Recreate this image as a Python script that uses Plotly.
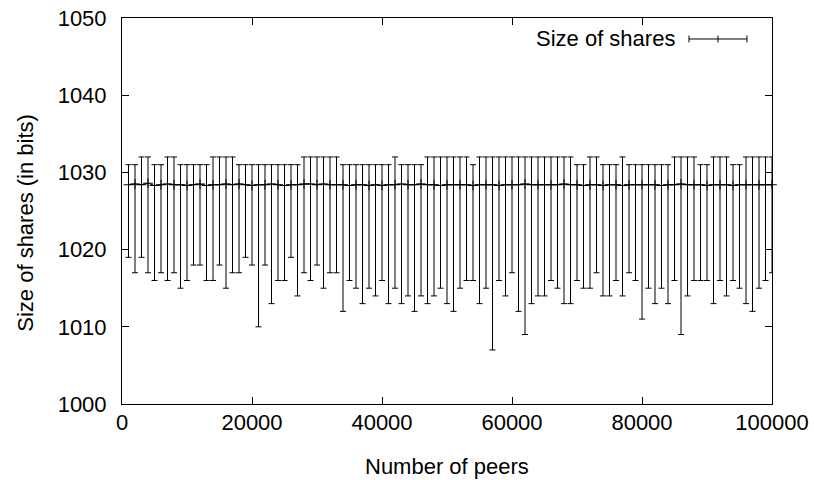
import plotly.graph_objects as go

peers = [
    1000, 2000, 3000, 4000, 5000, 6000, 7000, 8000, 9000, 10000,
    11000, 12000, 13000, 14000, 15000, 16000, 17000, 18000, 19000, 20000,
    21000, 22000, 23000, 24000, 25000, 26000, 27000, 28000, 29000, 30000,
    31000, 32000, 33000, 34000, 35000, 36000, 37000, 38000, 39000, 40000,
    41000, 42000, 43000, 44000, 45000, 46000, 47000, 48000, 49000, 50000,
    51000, 52000, 53000, 54000, 55000, 56000, 57000, 58000, 59000, 60000,
    61000, 62000, 63000, 64000, 65000, 66000, 67000, 68000, 69000, 70000,
    71000, 72000, 73000, 74000, 75000, 76000, 77000, 78000, 79000, 80000,
    81000, 82000, 83000, 84000, 85000, 86000, 87000, 88000, 89000, 90000,
    91000, 92000, 93000, 94000, 95000, 96000, 97000, 98000, 99000, 100000,
]

mean_size = [
    1028.4, 1028.5, 1028.4, 1028.6, 1028.3, 1028.4, 1028.5, 1028.4, 1028.4, 1028.3,
    1028.4, 1028.5, 1028.3, 1028.4, 1028.4, 1028.5, 1028.4, 1028.5, 1028.4, 1028.3,
    1028.4, 1028.4, 1028.5, 1028.4, 1028.3, 1028.4, 1028.4, 1028.5, 1028.5, 1028.4,
    1028.5, 1028.4, 1028.4, 1028.4, 1028.3, 1028.4, 1028.4, 1028.3, 1028.4, 1028.3,
    1028.4, 1028.4, 1028.5, 1028.4, 1028.4, 1028.5, 1028.4, 1028.4, 1028.3, 1028.4,
    1028.4, 1028.4, 1028.4, 1028.3, 1028.4, 1028.4, 1028.4, 1028.3, 1028.4, 1028.4,
    1028.4, 1028.5, 1028.4, 1028.4, 1028.4, 1028.4, 1028.4, 1028.5, 1028.4, 1028.4,
    1028.3, 1028.4, 1028.4, 1028.3, 1028.4, 1028.4, 1028.3, 1028.4, 1028.4, 1028.4,
    1028.4, 1028.4, 1028.3, 1028.4, 1028.4, 1028.5, 1028.4, 1028.4, 1028.4, 1028.3,
    1028.4, 1028.4, 1028.4, 1028.3, 1028.4, 1028.4, 1028.4, 1028.4, 1028.4, 1028.4,
]

max_size = [
    1031, 1031, 1032, 1032, 1031, 1031, 1032, 1032, 1031, 1031,
    1031, 1031, 1031, 1032, 1032, 1032, 1032, 1031, 1031, 1031,
    1031, 1031, 1031, 1031, 1031, 1031, 1031, 1032, 1032, 1032,
    1032, 1032, 1032, 1031, 1031, 1031, 1031, 1031, 1031, 1031,
    1031, 1032, 1031, 1031, 1031, 1031, 1032, 1032, 1032, 1032,
    1032, 1032, 1032, 1031, 1032, 1032, 1032, 1032, 1032, 1032,
    1032, 1032, 1032, 1032, 1032, 1032, 1032, 1032, 1032, 1031,
    1031, 1032, 1032, 1031, 1031, 1031, 1032, 1031, 1031, 1031,
    1031, 1031, 1031, 1031, 1032, 1032, 1032, 1032, 1031, 1031,
    1032, 1032, 1032, 1031, 1031, 1032, 1032, 1032, 1032, 1032,
]

min_size = [
    1019, 1017, 1019, 1017, 1016, 1017, 1016, 1017, 1015, 1016,
    1018, 1018, 1016, 1016, 1018, 1015, 1017, 1017, 1019, 1018,
    1010, 1018, 1013, 1016, 1016, 1019, 1014, 1017, 1016, 1018,
    1015, 1017, 1017, 1012, 1016, 1015, 1013, 1015, 1014, 1016,
    1013, 1015, 1013, 1014, 1012, 1014, 1013, 1014, 1015, 1013,
    1012, 1015, 1016, 1016, 1013, 1015, 1007, 1016, 1014, 1017,
    1012, 1009, 1013, 1014, 1014, 1016, 1015, 1013, 1013, 1016,
    1015, 1015, 1017, 1014, 1014, 1016, 1014, 1017, 1016, 1011,
    1015, 1013, 1015, 1013, 1016, 1009, 1014, 1016, 1016, 1016,
    1013, 1016, 1014, 1016, 1015, 1013, 1012, 1015, 1016, 1017,
]

x_ticks = [0, 20000, 40000, 60000, 80000, 100000]
x_tick_labels = ["0", "20000", "40000", "60000", "80000", "100000"]
y_ticks = [1000, 1010, 1020, 1030, 1040, 1050]
y_tick_labels = ["1000", "1010", "1020", "1030", "1040", "1050"]

series_name = "Size of shares"
x_title = "Number of peers"
y_title = "Size of shares (in bits)"

FONT = "Liberation Sans, Arial, Helvetica, sans-serif"

err_plus = [hi - m for hi, m in zip(max_size, mean_size)]
err_minus = [m - lo for lo, m in zip(min_size, mean_size)]

fig = go.Figure()
fig.add_trace(go.Scatter(
    x=peers, y=mean_size, mode="lines+markers", name=series_name,
    line=dict(color="black", width=1),
    marker=dict(symbol="cross-thin", size=7, line=dict(color="black", width=1)),
    error_y=dict(type="data", symmetric=False, array=err_plus, arrayminus=err_minus,
                 color="black", thickness=1, width=3),
    showlegend=False,
    cliponaxis=False,
))

axis_common = dict(
    showline=True, linecolor="black", linewidth=1, mirror="ticks",
    ticks="inside", ticklen=7, tickcolor="black", tickwidth=1,
    showgrid=False, zeroline=False, automargin=False,
    ticklabeloverflow="allow",
    tickfont=dict(family=FONT, size=22, color="black"),
)

fig.update_xaxes(range=[0, 100000], tickvals=x_ticks, ticktext=x_tick_labels,
                 ticklabelstandoff=-1, **axis_common)
fig.update_yaxes(range=[1000, 1050], tickvals=y_ticks, ticktext=y_tick_labels,
                 ticklabelstandoff=10, **axis_common)

# axis titles
fig.add_annotation(text=x_title, xref="paper", yref="paper", x=0.5, y=-0.163,
                   xanchor="center", yanchor="middle", showarrow=False,
                   font=dict(family=FONT, size=22, color="black"))
fig.add_annotation(text=y_title, xref="paper", yref="paper", x=-0.149, y=0.47,
                   xanchor="center", yanchor="middle", textangle=-90, showarrow=False,
                   font=dict(family=FONT, size=22, color="black"))

# gnuplot-style key: label on the left, error-bar sample on the right
fig.add_annotation(text=series_name, xref="paper", yref="paper", x=0.854, y=0.948,
                   xanchor="right", yanchor="middle", showarrow=False,
                   font=dict(family=FONT, size=22, color="black"))
key_y = 0.9456
key_x0, key_x1, key_xm = 0.8723, 0.9615, 0.9169
cap = 0.009
line_style = dict(color="black", width=1)
fig.add_shape(type="line", xref="paper", yref="paper", x0=key_x0, x1=key_x1, y0=key_y, y1=key_y, line=line_style)
fig.add_shape(type="line", xref="paper", yref="paper", x0=key_x0, x1=key_x0, y0=key_y - cap, y1=key_y + cap, line=line_style)
fig.add_shape(type="line", xref="paper", yref="paper", x0=key_x1, x1=key_x1, y0=key_y - cap, y1=key_y + cap, line=line_style)
fig.add_shape(type="line", xref="paper", yref="paper", x0=key_xm, x1=key_xm, y0=key_y - cap, y1=key_y + cap, line=line_style)

fig.update_layout(
    width=814, height=480,
    margin=dict(l=122, r=42, t=18, b=76),
    plot_bgcolor="white", paper_bgcolor="white",
    font=dict(family=FONT, size=22, color="black"),
    hovermode=False,
)

# remove the browser's default 8px page margin so the figure fills the window exactly
fig.write_html("out.html", config={"displayModeBar": False},
               post_script="document.body.style.margin='0';")
